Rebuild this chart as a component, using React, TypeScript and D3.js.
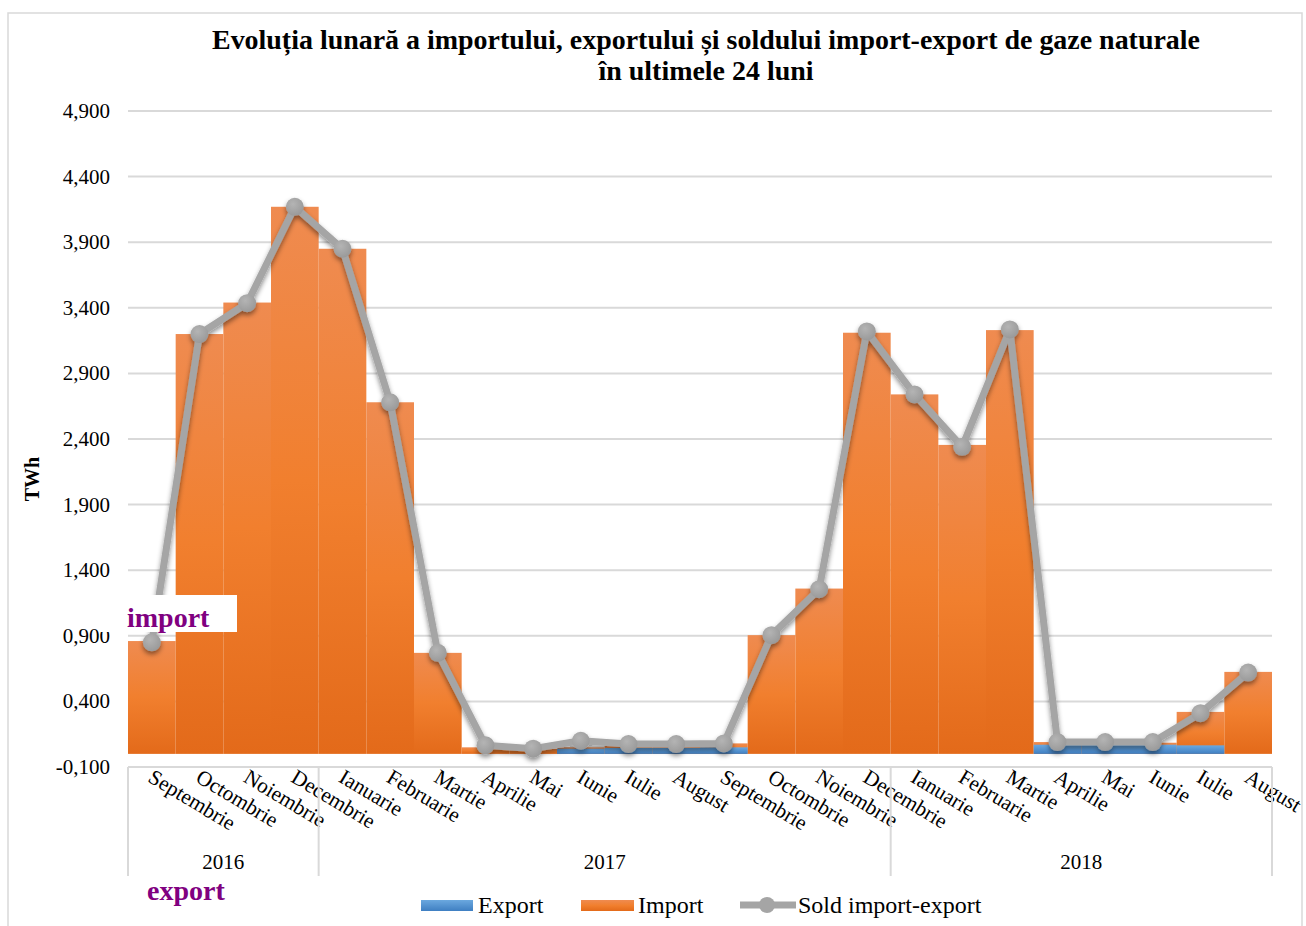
import React from "react";
import * as d3 from "d3";

const months = ["Septembrie","Octombrie","Noiembrie","Decembrie","Ianuarie","Februarie","Martie","Aprilie","Mai","Iunie","Iulie","August","Septembrie","Octombrie","Noiembrie","Decembrie","Ianuarie","Februarie","Martie","Aprilie","Mai","Iunie","Iulie","August"];
const yearLabels = ["2016", "2017", "2018"];
const yearCounts = [4, 12, 8];
const importValues = [0.86,3.2,3.44,4.17,3.85,2.68,0.77,0.05,0.04,0.05,0.06,0.055,0.08,0.905,1.26,3.21,2.74,2.355,3.23,0.09,0.085,0.085,0.32,0.625];
const exportValues = [0,0,0,0,0,0,0,0,0,0.04,0.045,0.045,0.05,0,0,0,0,0,0,0.07,0.07,0.07,0.065,0];
const soldValues = [0.85,3.2,3.435,4.17,3.85,2.68,0.77,0.065,0.04,0.1,0.075,0.075,0.08,0.905,1.255,3.22,2.74,2.34,3.235,0.09,0.09,0.09,0.31,0.62];
const yTicks = [-0.1,0.4,0.9,1.4,1.9,2.4,2.9,3.4,3.9,4.4,4.9];

const W = 1306, H = 926;
const left = 128, right = 1272, top = 111, bottom = 767;
const FONT = "'Liberation Serif', 'Times New Roman', serif";

export default function App() {
  const idx = months.map((_, i) => i);
  const x = d3.scaleBand<number>().domain(idx).range([left, right]).padding(0);
  const y = d3.scaleLinear().domain([-0.1, 4.9]).range([bottom, top]);
  const y0 = y(0);
  const fmt = (v: number) => d3.format(",.3f")(v).replace(".", ",").replace("\u2212", "-");
  const line = d3.line<number>().x((_, i) => (x(i) as number) + x.bandwidth() / 2).y((d) => y(d));

  const bounds: number[] = [0];
  yearCounts.forEach((c) => bounds.push(bounds[bounds.length - 1] + c));
  const bx = (k: number) => (k < months.length ? (x(k) as number) : right);

  return (
    <svg width={W} height={H} style={{ position: "absolute", left: 0, top: 0, background: "#fff" }} fontFamily={FONT}>
      <defs>
        <linearGradient id="gOr" x1="0" y1="0" x2="0" y2="1">
          <stop offset="0" stopColor="#EF8B50" />
          <stop offset="0.5" stopColor="#F17F2E" />
          <stop offset="1" stopColor="#E36A1A" />
        </linearGradient>
        <linearGradient id="gBl" x1="0" y1="0" x2="0" y2="1">
          <stop offset="0" stopColor="#6BA8DF" />
          <stop offset="1" stopColor="#3F7FC2" />
        </linearGradient>
        <radialGradient id="gMk" cx="0.4" cy="0.35" r="0.7">
          <stop offset="0" stopColor="#B4B4B4" />
          <stop offset="1" stopColor="#989898" />
        </radialGradient>
        <filter id="sh" x="-10%" y="-10%" width="120%" height="130%">
          <feDropShadow dx="0" dy="3" stdDeviation="2.5" floodColor="#000" floodOpacity="0.45" />
        </filter>
        <filter id="sh2" x="-5%" y="-200%" width="110%" height="500%">
          <feDropShadow dx="0" dy="2" stdDeviation="1.5" floodColor="#000" floodOpacity="0.35" />
        </filter>
      </defs>

      <rect x={8} y={13} width={1294} height={940} fill="none" stroke="#D9D9D9" strokeWidth={1.5} />

      <text x={706} y={49} textAnchor="middle" fontWeight="bold" fontSize={27} textLength={988} lengthAdjust="spacingAndGlyphs">
        Evoluția lunară a importului, exportului și soldului import-export de gaze naturale
      </text>
      <text x={706} y={80} textAnchor="middle" fontWeight="bold" fontSize={27} textLength={215} lengthAdjust="spacingAndGlyphs">
        în ultimele 24 luni
      </text>

      {yTicks.map((t) => (
        <line key={t} x1={left} x2={right} y1={y(t)} y2={y(t)} stroke="#D9D9D9" strokeWidth={2} />
      ))}
      {yTicks.map((t) => (
        <text key={"l" + t} x={110} y={y(t) + 7} textAnchor="end" fontSize={21}>
          {fmt(t)}
        </text>
      ))}

      <text transform={`translate(39,479) rotate(-90)`} textAnchor="middle" fontWeight="bold" fontSize={20}>
        TWh
      </text>

      {importValues.map((v, i) => (
        <rect key={"i" + i} x={x(i)} y={y(v)} width={x.bandwidth()} height={y0 - y(v)} fill="url(#gOr)" />
      ))}
      {exportValues.map((v, i) =>
        v > 0 ? <rect key={"e" + i} x={x(i)} y={y(v)} width={x.bandwidth()} height={y0 - y(v)} fill="url(#gBl)" /> : null
      )}

      <line x1={left} x2={right} y1={y0 + 1.5} y2={y0 + 1.5} stroke="#D9D9D9" strokeWidth={2.5} filter="url(#sh2)" />

      <g filter="url(#sh)">
        <path d={line(soldValues) as string} fill="none" stroke="#A5A5A5" strokeWidth={7} strokeLinejoin="round" />
        {soldValues.map((v, i) => (
          <circle key={"m" + i} cx={(x(i) as number) + x.bandwidth() / 2} cy={y(v)} r={9} fill="url(#gMk)" />
        ))}
      </g>

      {months.map((m, i) => (
        <text key={"c" + i} transform={`translate(${(x(i) as number) + x.bandwidth() / 2 - 5},${781}) rotate(31)`} fontSize={21.3}>
          {m}
        </text>
      ))}

      {bounds.map((b, k) => (
        <line key={"s" + k} x1={bx(b)} x2={bx(b)} y1={bottom} y2={876} stroke="#D9D9D9" strokeWidth={2} />
      ))}
      {yearLabels.map((yl, k) => (
        <text key={"y" + k} x={(bx(bounds[k]) + bx(bounds[k + 1])) / 2} y={869} textAnchor="middle" fontSize={21}>
          {yl}
        </text>
      ))}

      <rect x={100} y={595} width={137} height={37} fill="#fff" />
      <text x={127} y={627} fontSize={28} fontWeight="bold" fill="#800080">import</text>
      <text x={147} y={900} fontSize={28} fontWeight="bold" fill="#800080">export</text>

      <rect x={421} y={900} width={52} height={11} fill="url(#gBl)" />
      <text x={478} y={913} fontSize={24}>Export</text>
      <rect x={581} y={900} width={53} height={11} fill="url(#gOr)" />
      <text x={638} y={913} fontSize={24}>Import</text>
      <line x1={740} x2={796} y1={905} y2={905} stroke="#A5A5A5" strokeWidth={7} />
      <circle cx={767} cy={905} r={8} fill="#A5A5A5" />
      <text x={798} y={913} fontSize={24}>Sold import-export</text>
    </svg>
  );
}
